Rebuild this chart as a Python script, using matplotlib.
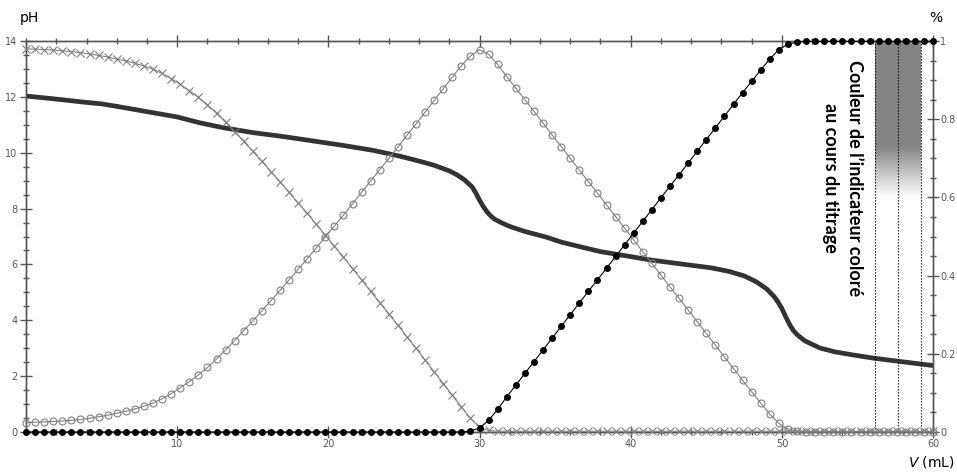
import numpy as np
import matplotlib
matplotlib.use("Agg")
import matplotlib.pyplot as plt
from matplotlib.ticker import MultipleLocator

# Volumes du simulateur (pas de 0,6 mL)
volumes = [
    0.0, 0.6, 1.2, 1.8, 2.4, 3.0, 3.6, 4.2, 4.8, 5.4, 6.0, 6.6, 7.2, 7.8, 8.4, 9.0,
    9.6, 10.2, 10.8, 11.4, 12.0, 12.6, 13.2, 13.8, 14.4, 15.0, 15.6, 16.2, 16.8,
    17.4, 18.0, 18.6, 19.2, 19.8, 20.4, 21.0, 21.6, 22.2, 22.8, 23.4, 24.0, 24.6,
    25.2, 25.8, 26.4, 27.0, 27.6, 28.2, 28.8, 29.4, 30.0, 30.6, 31.2, 31.8, 32.4,
    33.0, 33.6, 34.2, 34.8, 35.4, 36.0, 36.6, 37.2, 37.8, 38.4, 39.0, 39.6, 40.2,
    40.8, 41.4, 42.0, 42.6, 43.2, 43.8, 44.4, 45.0, 45.6, 46.2, 46.8, 47.4, 48.0,
    48.6, 49.2, 49.8, 50.4, 51.0, 51.6, 52.2, 52.8, 53.4, 54.0, 54.6, 55.2, 55.8,
    56.4, 57.0, 57.6, 58.2, 58.8, 59.4, 60.0,
]

# Fractions des especes
frac_croix = [
    0.980, 0.979, 0.978, 0.977, 0.975, 0.973, 0.970, 0.967, 0.963, 0.959, 0.954,
    0.949, 0.943, 0.936, 0.928, 0.917, 0.904, 0.889, 0.873, 0.856, 0.837, 0.815,
    0.792, 0.768, 0.743, 0.718, 0.692, 0.666, 0.640, 0.613, 0.586, 0.559, 0.531,
    0.503, 0.475, 0.447, 0.418, 0.389, 0.360, 0.331, 0.302, 0.273, 0.243, 0.214,
    0.184, 0.154, 0.124, 0.094, 0.064, 0.035, 0.012, 0.004, 0.002, 0.002, 0.002,
    0.002, 0.002, 0.002, 0.002, 0.002, 0.002, 0.002, 0.002, 0.002, 0.002, 0.002,
    0.002, 0.002, 0.002, 0.002, 0.002, 0.002, 0.002, 0.002, 0.002, 0.002, 0.002,
    0.002, 0.002, 0.002, 0.002, 0.002, 0.002, 0.002, 0.002, 0.002, 0.002, 0.002,
    0.002, 0.002, 0.002, 0.002, 0.002, 0.002, 0.002, 0.002, 0.002, 0.002, 0.002,
    0.002, 0.002,
]
frac_cercles = [
    0.024, 0.025, 0.026, 0.027, 0.028, 0.030, 0.032, 0.035, 0.039, 0.043, 0.048,
    0.053, 0.059, 0.066, 0.074, 0.085, 0.098, 0.113, 0.129, 0.146, 0.165, 0.187,
    0.210, 0.234, 0.259, 0.284, 0.310, 0.336, 0.362, 0.389, 0.416, 0.443, 0.471,
    0.499, 0.527, 0.555, 0.584, 0.613, 0.642, 0.671, 0.700, 0.729, 0.759, 0.788,
    0.818, 0.848, 0.878, 0.908, 0.937, 0.962, 0.978, 0.966, 0.940, 0.909, 0.879,
    0.850, 0.820, 0.790, 0.760, 0.730, 0.700, 0.670, 0.640, 0.611, 0.581, 0.551,
    0.521, 0.491, 0.461, 0.431, 0.401, 0.371, 0.342, 0.312, 0.282, 0.252, 0.222,
    0.192, 0.162, 0.132, 0.103, 0.074, 0.046, 0.022, 0.008, 0.003, 0.001, 0.001,
    0.001, 0.001, 0.001, 0.001, 0.001, 0.001, 0.001, 0.001, 0.001, 0.001, 0.001,
    0.001, 0.001,
]
frac_points = [
    0.0, 0.0, 0.0, 0.0, 0.0, 0.0, 0.0, 0.0, 0.0, 0.0, 0.0, 0.0, 0.0, 0.0, 0.0,
    0.0, 0.0, 0.0, 0.0, 0.0, 0.0, 0.0, 0.0, 0.0, 0.0, 0.0, 0.0, 0.0, 0.0, 0.0,
    0.0, 0.0, 0.0, 0.0, 0.0, 0.0, 0.0, 0.0, 0.0, 0.0, 0.0, 0.0, 0.0, 0.0, 0.0,
    0.0, 0.0, 0.0, 0.0, 0.003, 0.010, 0.030, 0.058, 0.090, 0.120, 0.150, 0.180,
    0.210, 0.240, 0.270, 0.300, 0.330, 0.360, 0.389, 0.419, 0.449, 0.479, 0.509,
    0.539, 0.569, 0.599, 0.629, 0.658, 0.688, 0.718, 0.748, 0.778, 0.808, 0.838,
    0.868, 0.897, 0.926, 0.954, 0.978, 0.992, 0.997, 0.999, 0.999, 0.999, 0.999,
    0.999, 0.999, 0.999, 0.999, 0.999, 0.999, 0.999, 0.999, 0.999, 0.999, 0.999,
]

# Courbe de pH
volumes_ph = [
    0, 2, 4, 5, 6, 8, 10, 11.5, 13, 15, 17, 19, 21, 23, 24.7, 26, 27, 28, 28.5,
    29, 29.5, 29.75, 30, 30.25, 30.5, 30.75, 31, 31.5, 32, 33, 34.4, 35.4, 36.6,
    38, 39.1, 40, 41.3, 43, 45.3, 46.5, 47.5, 48.3, 49, 49.5, 49.75, 50, 50.25,
    50.5, 50.75, 51, 51.5, 52.5, 53.5, 54.7, 56, 57, 58.5, 60,
]
valeurs_ph = [
    12.03, 11.92, 11.80, 11.75, 11.66, 11.47, 11.28, 11.07, 10.90, 10.72, 10.58,
    10.42, 10.26, 10.08, 9.88, 9.70, 9.55, 9.35, 9.21, 9.03, 8.78, 8.56, 8.30,
    8.07, 7.88, 7.73, 7.62, 7.48, 7.36, 7.18, 6.98, 6.80, 6.64, 6.46, 6.36, 6.28,
    6.16, 6.04, 5.88, 5.75, 5.59, 5.38, 5.12, 4.84, 4.65, 4.42, 4.13, 3.86, 3.64,
    3.49, 3.27, 3.01, 2.87, 2.76, 2.65, 2.58, 2.48, 2.38,
]

# Zone de virage de l'indicateur
bornes_indicateur = [56.16, 57.68, 59.2]

GRIS_AXE = "#555555"


def configurer_axes(ax, ax2):
    ax.set_xlim(0, 60)
    ax.set_ylim(0, 14)
    ax2.set_ylim(0, 1)
    for a in (ax, ax2):
        for s in a.spines.values():
            s.set_color(GRIS_AXE)
            s.set_linewidth(1.0)
    ax.set_xticks([10, 20, 30, 40, 50, 60])
    ax.xaxis.set_minor_locator(MultipleLocator(2))
    ax.set_yticks(range(0, 15, 2))
    ax.yaxis.set_minor_locator(MultipleLocator(0.5))
    ax.tick_params(axis="both", which="both", direction="inout", colors=GRIS_AXE,
                   labelsize=7, top=True, right=False, pad=1)
    ax.tick_params(which="major", length=8, width=1)
    ax.tick_params(which="minor", length=5, width=1)
    ax.tick_params(axis="y", pad=2)

    ax2.set_yticks([0, 0.2, 0.4, 0.6, 0.8, 1])
    ax2.set_yticklabels(["0", "0.2", "0.4", "0.6", "0.8", "1"])
    ax2.yaxis.set_minor_locator(MultipleLocator(0.05))
    ax2.tick_params(axis="y", which="both", direction="inout", colors=GRIS_AXE,
                    labelsize=7, pad=1)
    ax2.tick_params(which="major", length=8, width=1)
    ax2.tick_params(which="minor", length=5, width=1)


def tracer():
    fig = plt.figure(figsize=(9.57, 4.75), dpi=100)
    ax = fig.add_axes([0.0272, 0.0905, 0.9478, 0.8232])
    ax2 = ax.twinx()
    ax2.set_zorder(ax.get_zorder() + 1)
    ax2.patch.set_visible(False)

    # Bande grise (couleur de l'indicateur)
    n = 200
    hauteurs = np.linspace(0.55, 1.0, n)
    alpha = np.clip((hauteurs - 0.6) / (0.73 - 0.6), 0, 1)
    bande = np.zeros((n, 1, 4))
    bande[:, 0, :3] = 0.52
    bande[:, 0, 3] = alpha
    ax2.imshow(bande, extent=[bornes_indicateur[0], bornes_indicateur[-1], 0.55, 1.0],
               origin="lower", aspect="auto", zorder=0, interpolation="bilinear")
    for v in bornes_indicateur:
        ax2.axvline(v, color="black", linestyle=(0, (1.2, 1.5)), linewidth=0.8, zorder=1)

    # Courbe de pH
    ax.plot(volumes_ph, valeurs_ph, color="#333333", linewidth=3.4,
            solid_capstyle="round", solid_joinstyle="round", zorder=2)

    # Especes
    ax2.plot(volumes, frac_croix, color="#808080", linewidth=0.8, marker="x",
             markersize=5.5, markeredgewidth=0.8, clip_on=False, zorder=3)
    ax2.plot(volumes, frac_cercles, color="#808080", linewidth=0.8, marker="o",
             markersize=5, markerfacecolor="none", markeredgewidth=0.8,
             clip_on=False, zorder=3)
    ax2.plot(volumes, frac_points, color="black", linewidth=0.8, marker="o",
             markersize=5, markerfacecolor="black", markeredgewidth=0,
             clip_on=False, zorder=4)

    configurer_axes(ax, ax2)
    ax2.set_xlim(0, 60)

    ax2.text(54.0, 0.65, "Couleur de l’indicateur coloré\nau cours du titrage",
             rotation=270, ha="center", va="center", multialignment="center",
             fontsize=13, fontweight="bold", family=["Lato", "DejaVu Sans"],
             linespacing=1.45, zorder=5)

    fig.text(0.021, 0.962, "pH", fontsize=10, color="black", ha="left", va="center")
    fig.text(0.978, 0.962, "%", fontsize=10, color="black", ha="center", va="center")
    fig.text(0.998, 0.027, r"$\mathit{V}$ (mL)", fontsize=10, ha="right", va="center")

    fig.savefig("out.png", dpi=100)


if __name__ == "__main__":
    tracer()
